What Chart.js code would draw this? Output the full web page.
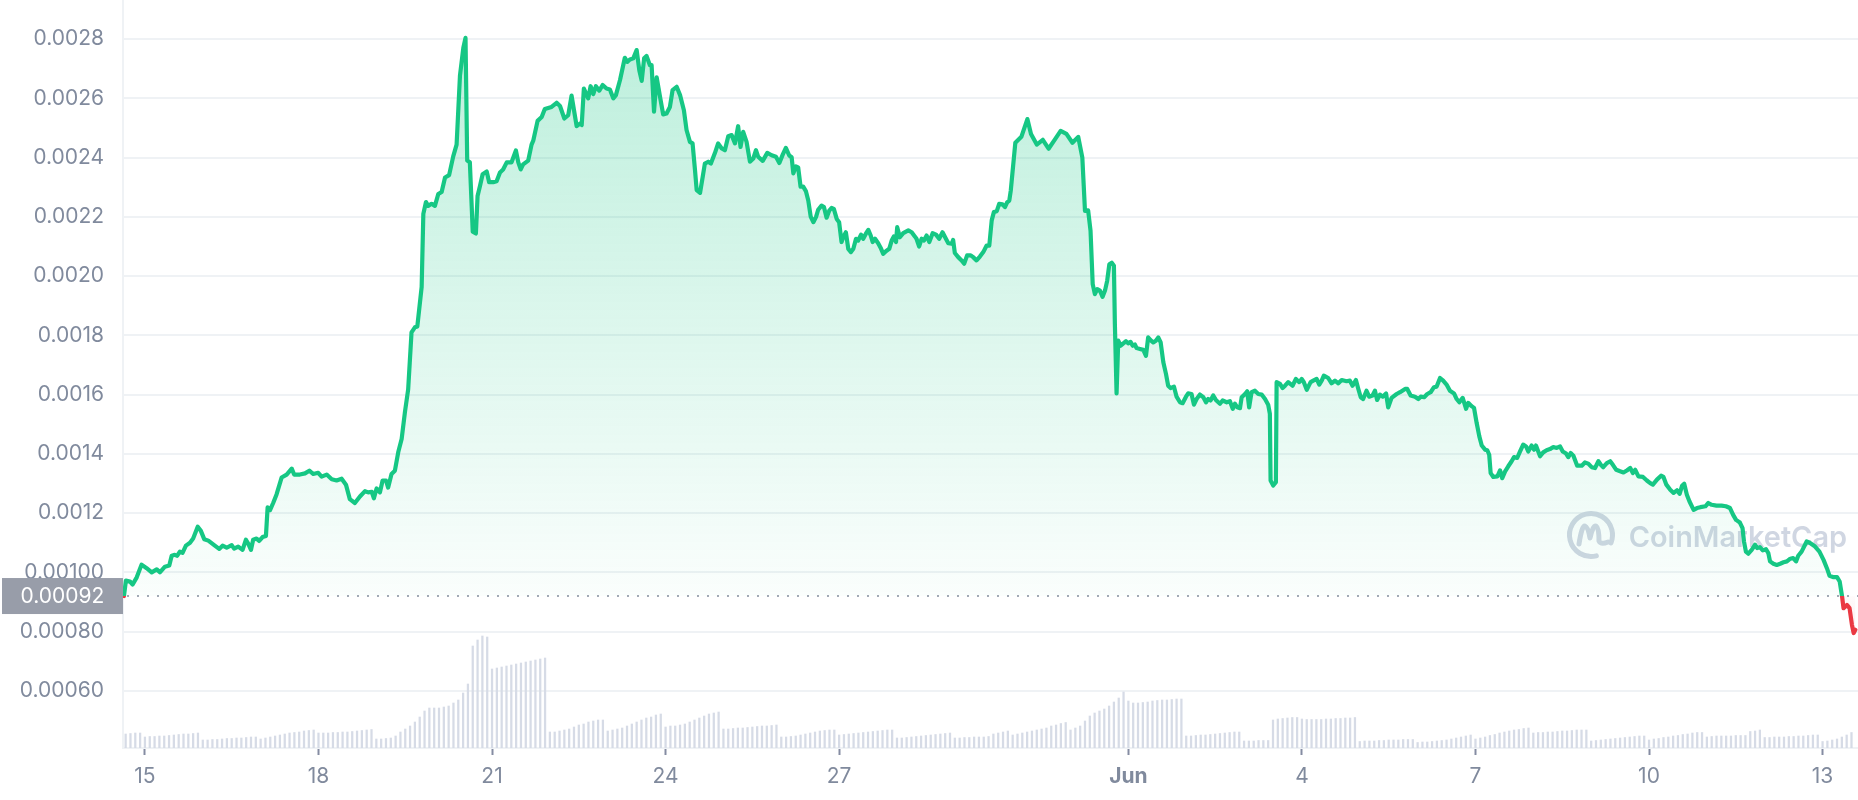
<!DOCTYPE html>
<html>
<head>
<meta charset="utf-8">
<script src="https://cdn.jsdelivr.net/npm/chart.js@4.4.1/dist/chart.umd.min.js"></script>
<style>
  html, body { margin: 0; padding: 0; background: #fff; }
  #wrap { width: 1858px; height: 800px; }
</style>
</head>
<body>
<div id="wrap"><canvas id="chart" width="1858" height="800" style="width:1858px;height:800px"></canvas></div>
<script>
// opening price of the period (dotted line + badge)
const openPrice = 0.00092;

const priceTicks = [0.0006, 0.0008, 0.0010, 0.0012, 0.0014, 0.0016, 0.0018, 0.0020, 0.0022, 0.0024, 0.0026, 0.0028];
const priceTickLabels = ['0.00060', '0.00080', '0.00100', '0.0012', '0.0014', '0.0016', '0.0018', '0.0020', '0.0022', '0.0024', '0.0026', '0.0028'];

// x is hours since 15 May 00:00
const dateTickHours = [0, 72, 144, 216, 288, 408, 480, 552, 624, 696];
const dateTickLabels = ['15', '18', '21', '24', '27', 'Jun', '4', '7', '10', '13'];

// [hour, price]
const pricePoints = [
  [-8.7, 0.000920], [-7.9, 0.000972], [-6.2, 0.000969], [-5.1, 0.000959], [-3.4, 0.000983], [-1.4, 0.001026],
  [0.7, 0.001014], [2.8, 0.001000], [4.9, 0.001010], [6.2, 0.001000], [8.3, 0.001019], [10.1, 0.001023],
  [11.1, 0.001056], [12.4, 0.001059], [13.4, 0.001056], [14.5, 0.001070], [15.6, 0.001066], [17.0, 0.001090],
  [18.7, 0.001100], [20.0, 0.001114], [21.9, 0.001154], [23.2, 0.001140], [24.6, 0.001112], [26.3, 0.001107],
  [29.0, 0.001090], [30.8, 0.001079], [32.2, 0.001090], [33.9, 0.001083], [36.0, 0.001092], [37.0, 0.001080],
  [38.7, 0.001087], [40.5, 0.001076], [41.9, 0.001110], [42.9, 0.001096], [44.0, 0.001076], [44.9, 0.001110],
  [46.3, 0.001114], [47.4, 0.001106], [48.8, 0.001119], [50.2, 0.001123], [50.9, 0.001219], [51.9, 0.001210],
  [53.2, 0.001234], [54.6, 0.001263], [56.7, 0.001320], [58.8, 0.001330], [60.9, 0.001350], [61.9, 0.001330],
  [64.3, 0.001330], [66.4, 0.001334], [68.2, 0.001343], [69.8, 0.001332], [71.9, 0.001336], [73.3, 0.001323],
  [75.4, 0.001330], [77.5, 0.001314], [79.5, 0.001310], [81.6, 0.001316], [83.4, 0.001296], [85.0, 0.001247],
  [87.1, 0.001234], [89.2, 0.001256], [91.3, 0.001274], [92.6, 0.001270], [94.1, 0.001272], [95.0, 0.001250],
  [96.1, 0.001283], [97.5, 0.001270], [98.6, 0.001310], [100.0, 0.001310], [100.9, 0.001286], [102.3, 0.001332],
  [103.7, 0.001343], [105.1, 0.001406], [106.5, 0.001450], [107.9, 0.001543], [109.2, 0.001617], [110.6, 0.001810],
  [112.0, 0.001827], [113.0, 0.001830], [114.8, 0.001963], [115.5, 0.002210], [116.6, 0.002250], [117.5, 0.002237],
  [118.9, 0.002244], [120.3, 0.002237], [121.7, 0.002277], [123.1, 0.002284], [124.5, 0.002333], [126.2, 0.002341],
  [127.9, 0.002404], [129.3, 0.002444], [130.7, 0.002677], [132.1, 0.002771], [133.0, 0.002804], [133.7, 0.002390],
  [134.8, 0.002384], [136.0, 0.002150], [137.3, 0.002144], [138.0, 0.002270], [139.0, 0.002304], [140.1, 0.002344],
  [141.8, 0.002353], [142.8, 0.002317], [144.5, 0.002317], [145.9, 0.002320], [147.3, 0.002350], [148.6, 0.002360],
  [150.1, 0.002384], [152.1, 0.002384], [153.9, 0.002424], [154.9, 0.002384], [155.9, 0.002360], [156.9, 0.002377],
  [159.0, 0.002390], [160.4, 0.002444], [161.1, 0.002457], [162.9, 0.002524], [164.6, 0.002537], [165.9, 0.002564],
  [168.7, 0.002571], [170.8, 0.002585], [172.2, 0.002574], [174.0, 0.002532], [175.6, 0.002543], [177.0, 0.002609],
  [179.1, 0.002506], [180.5, 0.002515], [181.2, 0.002510], [182.1, 0.002633], [183.9, 0.002600], [184.9, 0.002641],
  [186.0, 0.002614], [187.1, 0.002641], [188.5, 0.002626], [189.9, 0.002645], [191.5, 0.002633], [192.9, 0.002630],
  [194.3, 0.002600], [195.4, 0.002611], [197.1, 0.002662], [199.1, 0.002737], [200.1, 0.002723], [201.2, 0.002731],
  [202.6, 0.002735], [204.0, 0.002763], [205.1, 0.002695], [206.1, 0.002659], [207.1, 0.002735], [208.1, 0.002743],
  [209.5, 0.002712], [210.2, 0.002712], [211.2, 0.002555], [212.3, 0.002671], [213.7, 0.002605], [215.0, 0.002546],
  [216.4, 0.002549], [217.8, 0.002571], [218.9, 0.002628], [220.6, 0.002639], [222.0, 0.002611], [223.6, 0.002560],
  [224.7, 0.002493], [226.1, 0.002453], [227.2, 0.002448], [228.2, 0.002358], [228.9, 0.002290], [230.3, 0.002281],
  [231.4, 0.002335], [232.3, 0.002380], [233.7, 0.002386], [234.8, 0.002380], [236.5, 0.002416], [237.8, 0.002448],
  [239.3, 0.002431], [240.6, 0.002425], [242.0, 0.002472], [243.4, 0.002476], [244.8, 0.002448], [246.1, 0.002506],
  [247.1, 0.002436], [248.2, 0.002487], [249.6, 0.002453], [251.0, 0.002386], [252.4, 0.002397], [253.5, 0.002425],
  [254.4, 0.002403], [256.3, 0.002389], [258.2, 0.002416], [260.0, 0.002408], [261.8, 0.002403], [263.2, 0.002382],
  [264.6, 0.002410], [265.9, 0.002433], [267.3, 0.002407], [268.3, 0.002401], [269.0, 0.002347], [270.1, 0.002370],
  [271.0, 0.002367], [272.0, 0.002302], [273.1, 0.002302], [274.2, 0.002287], [275.2, 0.002255], [276.2, 0.002201],
  [277.3, 0.002182], [278.4, 0.002199], [279.3, 0.002224], [280.7, 0.002238], [281.7, 0.002233], [282.8, 0.002197],
  [283.9, 0.002221], [284.9, 0.002230], [285.8, 0.002227], [287.0, 0.002193], [288.0, 0.002182], [289.0, 0.002115],
  [289.7, 0.002131], [290.8, 0.002148], [291.8, 0.002092], [292.9, 0.002081], [293.9, 0.002092], [295.0, 0.002126],
  [295.9, 0.002120], [297.1, 0.002140], [298.0, 0.002126], [299.1, 0.002143], [300.1, 0.002156], [301.1, 0.002137],
  [301.9, 0.002115], [302.9, 0.002126], [304.2, 0.002111], [305.2, 0.002096], [306.3, 0.002075], [307.4, 0.002084],
  [308.8, 0.002092], [309.8, 0.002120], [310.7, 0.002134], [311.6, 0.002115], [312.1, 0.002165], [313.2, 0.002131],
  [314.6, 0.002145], [316.7, 0.002154], [318.1, 0.002148], [319.4, 0.002134], [320.1, 0.002126], [321.2, 0.002100],
  [322.2, 0.002126], [323.2, 0.002120], [324.3, 0.002137], [325.4, 0.002115], [326.8, 0.002145], [328.2, 0.002140],
  [329.5, 0.002126], [330.9, 0.002148], [332.3, 0.002126], [333.3, 0.002111], [334.7, 0.002109], [335.3, 0.002122],
  [336.0, 0.002078], [337.4, 0.002064], [338.8, 0.002053], [339.9, 0.002042], [341.1, 0.002070], [342.6, 0.002070],
  [343.6, 0.002064], [345.0, 0.002053], [346.4, 0.002066], [347.8, 0.002081], [349.2, 0.002103], [350.3, 0.002103],
  [351.3, 0.002188], [352.2, 0.002216], [353.4, 0.002219], [354.4, 0.002244], [355.8, 0.002242], [356.8, 0.002233],
  [357.7, 0.002249], [358.6, 0.002255], [359.2, 0.002288], [361.1, 0.002450], [363.6, 0.002470], [366.1, 0.002530],
  [367.6, 0.002480], [370.0, 0.002444], [372.5, 0.002460], [374.9, 0.002430], [377.4, 0.002460], [379.9, 0.002490],
  [382.3, 0.002480], [384.8, 0.002450], [387.2, 0.002470], [388.9, 0.002400], [390.0, 0.002220], [391.3, 0.002222],
  [392.3, 0.002153], [393.2, 0.001973], [394.1, 0.001939], [395.1, 0.001956], [396.2, 0.001951], [397.3, 0.001930],
  [398.3, 0.001951], [399.2, 0.001984], [400.1, 0.002040], [401.1, 0.002045], [402.0, 0.002035], [402.4, 0.001838],
  [403.1, 0.001604], [403.8, 0.001782], [404.8, 0.001765], [405.9, 0.001773], [407.0, 0.001780], [407.9, 0.001773],
  [408.9, 0.001778], [409.8, 0.001765], [410.7, 0.001769], [411.4, 0.001757], [412.8, 0.001754], [414.2, 0.001751],
  [415.3, 0.001731], [416.2, 0.001793], [417.2, 0.001784], [418.3, 0.001776], [419.4, 0.001782], [420.4, 0.001793],
  [421.4, 0.001776], [422.5, 0.001709], [423.6, 0.001670], [424.5, 0.001630], [425.5, 0.001622], [426.9, 0.001627],
  [428.0, 0.001593], [429.4, 0.001574], [430.5, 0.001571], [431.9, 0.001593], [432.8, 0.001604], [434.2, 0.001602],
  [435.2, 0.001566], [436.3, 0.001585], [437.7, 0.001600], [439.1, 0.001591], [440.2, 0.001574], [441.1, 0.001585],
  [442.1, 0.001580], [443.2, 0.001597], [444.3, 0.001582], [446.0, 0.001569], [447.1, 0.001580], [448.8, 0.001574],
  [450.1, 0.001578], [451.3, 0.001552], [452.2, 0.001569], [453.2, 0.001557], [454.3, 0.001554], [455.0, 0.001591],
  [456.4, 0.001602], [457.3, 0.001611], [458.1, 0.001557], [459.1, 0.001608], [460.5, 0.001613], [461.9, 0.001602],
  [463.3, 0.001600], [464.7, 0.001585], [466.0, 0.001566], [466.7, 0.001535], [467.0, 0.001310], [468.1, 0.001293],
  [469.2, 0.001304], [469.5, 0.001642], [470.9, 0.001636], [472.0, 0.001622], [473.0, 0.001630], [474.3, 0.001642],
  [476.1, 0.001630], [477.5, 0.001653], [478.9, 0.001642], [479.9, 0.001653], [480.8, 0.001642], [482.0, 0.001616],
  [483.6, 0.001642], [484.7, 0.001647], [486.1, 0.001653], [487.2, 0.001634], [488.2, 0.001647], [489.1, 0.001664],
  [490.9, 0.001656], [492.3, 0.001638], [493.7, 0.001647], [495.1, 0.001638], [496.5, 0.001649], [498.5, 0.001645],
  [499.9, 0.001647], [501.0, 0.001630], [502.4, 0.001649], [503.4, 0.001619], [504.4, 0.001591], [505.4, 0.001585],
  [506.8, 0.001613], [507.9, 0.001593], [509.3, 0.001597], [510.3, 0.001613], [511.2, 0.001582], [512.4, 0.001600],
  [513.5, 0.001593], [514.9, 0.001604], [515.8, 0.001557], [517.2, 0.001589], [519.3, 0.001602], [520.7, 0.001608],
  [522.8, 0.001619], [523.7, 0.001619], [525.1, 0.001597], [526.9, 0.001593], [528.3, 0.001585], [529.3, 0.001593],
  [530.7, 0.001591], [532.0, 0.001602], [533.4, 0.001608], [534.8, 0.001625], [535.9, 0.001627], [537.3, 0.001656],
  [538.6, 0.001647], [540.0, 0.001634], [541.4, 0.001613], [543.1, 0.001604], [544.2, 0.001585], [545.3, 0.001574],
  [546.7, 0.001589], [548.1, 0.001552], [549.0, 0.001572], [550.4, 0.001561], [551.4, 0.001555], [552.5, 0.001504],
  [553.6, 0.001459], [554.6, 0.001428], [556.0, 0.001414], [556.9, 0.001412], [557.7, 0.001397], [558.3, 0.001335],
  [559.4, 0.001322], [561.1, 0.001324], [562.2, 0.001344], [563.1, 0.001318], [564.3, 0.001341], [565.6, 0.001358],
  [567.0, 0.001375], [568.0, 0.001389], [569.3, 0.001386], [570.5, 0.001408], [571.8, 0.001431], [573.0, 0.001425],
  [573.9, 0.001408], [575.3, 0.001428], [576.3, 0.001414], [577.1, 0.001428], [578.8, 0.001392], [580.1, 0.001405],
  [581.5, 0.001412], [582.9, 0.001416], [584.3, 0.001423], [585.7, 0.001420], [587.1, 0.001425], [588.2, 0.001408],
  [589.6, 0.001401], [590.5, 0.001389], [591.5, 0.001403], [592.6, 0.001394], [594.2, 0.001360], [596.1, 0.001360],
  [597.4, 0.001371], [598.8, 0.001367], [600.2, 0.001355], [601.6, 0.001352], [603.0, 0.001375], [604.0, 0.001363],
  [605.0, 0.001355], [606.5, 0.001369], [607.9, 0.001375], [609.0, 0.001363], [610.4, 0.001346], [612.0, 0.001341],
  [613.4, 0.001337], [614.8, 0.001344], [616.2, 0.001352], [617.3, 0.001335], [618.3, 0.001346], [619.6, 0.001324],
  [621.5, 0.001322], [623.1, 0.001310], [624.5, 0.001301], [625.6, 0.001296], [627.3, 0.001313], [629.0, 0.001326],
  [630.0, 0.001322], [631.2, 0.001296], [632.8, 0.001279], [634.2, 0.001268], [635.6, 0.001277], [636.7, 0.001265],
  [637.7, 0.001292], [638.6, 0.001299], [639.7, 0.001262], [640.8, 0.001239], [642.5, 0.001211], [643.9, 0.001217],
  [645.3, 0.001220], [647.4, 0.001223], [648.6, 0.001234], [650.0, 0.001228], [652.0, 0.001225], [654.1, 0.001225],
  [655.9, 0.001223], [657.6, 0.001217], [658.9, 0.001194], [660.1, 0.001177], [661.7, 0.001168], [662.8, 0.001149],
  [663.4, 0.001104], [664.2, 0.001070], [665.2, 0.001063], [666.6, 0.001076], [668.0, 0.001093], [668.9, 0.001082],
  [670.0, 0.001085], [671.2, 0.001074], [672.5, 0.001078], [673.5, 0.001065], [674.2, 0.001037], [675.6, 0.001029],
  [677.0, 0.001025], [678.4, 0.001029], [679.8, 0.001034], [681.2, 0.001037], [682.6, 0.001046], [683.8, 0.001048],
  [685.0, 0.001037], [685.9, 0.001056], [687.3, 0.001070], [689.4, 0.001104], [690.8, 0.001099], [692.9, 0.001087],
  [694.7, 0.001070], [696.4, 0.001042], [697.8, 0.001014], [698.9, 0.000988], [700.3, 0.000984], [702.0, 0.000984],
  [703.1, 0.000969], [704.1, 0.000918], [704.7, 0.000879], [706.1, 0.000890], [707.2, 0.000879], [708.2, 0.000822],
  [708.9, 0.000795], [709.6, 0.000806]
];

// 24h volume, one bar every two hours (arbitrary units)
const volumeTail14May = [14, 14.5, 15, 15];          // 16:00 .. 22:00
const volumeDays = [
  [11, 11.5, 11.5, 12, 12, 12.5, 13, 13.5, 14, 14, 14.5, 15],           // 15 May
  [8, 8, 8.5, 8.5, 9, 9.5, 9.5, 10, 10, 10.5, 11, 11],                  // 16
  [9, 10, 11, 12, 13, 14, 15, 15.5, 16, 17, 17.5, 18],                  // 17
  [15, 15, 15, 15.5, 15.5, 16, 16, 16.5, 17, 17.5, 18, 18.5],           // 18
  [9, 9, 9.5, 10, 12, 16, 19, 22, 26, 31, 37, 40],                      // 19
  [40, 40, 41, 42, 45, 48, 55, 64, 102, 108, 112, 111],                 // 20
  [79, 80, 81, 82, 83, 84, 85, 86, 87, 88, 89, 90],                     // 21
  [16, 16, 17, 18, 19, 21, 23, 24, 26, 27, 28, 28],                     // 22
  [17, 18, 19, 20, 22, 24, 26, 28, 30, 31, 33, 34],                     // 23
  [21, 22, 22, 23, 24, 26, 28, 30, 32, 34, 35, 36],                     // 24
  [19, 19, 19.5, 20, 20, 20.5, 21, 21.5, 22, 22, 22.5, 23],             // 25
  [11, 11, 11.5, 12, 13, 14, 15, 16, 17, 17.5, 18, 18],                 // 26
  [13, 13.5, 14, 14.5, 15, 15.5, 16, 16.5, 17, 17.5, 18, 18],           // 27
  [10, 10, 10.5, 11, 11.5, 12, 12.5, 13, 13.5, 14, 14.5, 15],           // 28
  [10, 10, 10.5, 10.5, 11, 11, 11, 11.5, 14, 15, 16, 17],               // 29
  [13, 14, 15, 16, 17, 18, 19, 20, 22, 23, 24.5, 25.5],                 // 30
  [18, 20, 22, 27, 32, 35, 37, 39, 42, 46, 50, 56],                     // 31
  [47, 45, 45, 45.5, 46, 47, 47.5, 48, 48, 48.5, 49, 49],               // 1 Jun
  [12, 12, 12.5, 13, 13, 13.5, 14, 14.5, 15, 15.5, 16, 16],             // 2
  [7, 7, 7, 7.5, 7.5, 7.5, 28, 29, 29.5, 30, 30.5, 30.5],               // 3
  [29, 28.5, 28.5, 28.5, 28.5, 29, 29, 29.5, 29.5, 30, 30, 30.5],       // 4
  [6.5, 7, 7, 7, 7.5, 7.5, 8, 8, 8, 8.5, 8.5, 8.5],                     // 5
  [5.5, 6, 6, 6.5, 7, 7.5, 8, 9, 10, 11, 12, 13],                       // 6
  [9, 10, 11, 12.5, 13.5, 15, 16, 17, 18, 18.5, 19.5, 20],              // 7
  [15, 15.5, 15.5, 16, 16, 16.5, 17, 17, 17.5, 18, 18, 18],             // 8
  [7, 7.5, 8, 8.5, 9, 9.5, 10, 10.5, 11, 11.5, 12, 12],                 // 9
  [8, 9, 9.5, 10.5, 11, 12, 12.5, 13.5, 14, 15, 15.5, 15.5],            // 10
  [11, 11.5, 12, 12, 12, 12, 12.5, 12.5, 12.5, 16.5, 17, 18],           // 11
  [10.5, 10.5, 11, 11, 11, 11.5, 11.5, 12, 12, 12.5, 13, 13],           // 12
  [6.5, 7, 8, 9, 11, 13, 15.5]                                          // 13 Jun (to 12:00)
];

const green = '#16c784';
const red = '#ea3943';
const labelColor = '#808a9d';
const gridColor = '#eff2f5';
const fontFamily = 'Inter, "Noto Sans", sans-serif';

const volumePoints = [];
volumeTail14May.forEach((v, k) => volumePoints.push({ x: -8 + 2 * k, y: v }));
volumeDays.forEach((day, d) => day.forEach((v, k) => volumePoints.push({ x: d * 24 + 2 * k, y: v })));

// green above the opening price, red below it
function splitGradient(context, topColor, midGreen, midRed, bottomColor) {
  const { chart } = context;
  const { ctx, chartArea, scales } = chart;
  if (!chartArea) return topColor;
  const yb = scales.y.getPixelForValue(openPrice);
  let t = (yb - chartArea.top) / (chartArea.bottom - chartArea.top);
  t = Math.min(Math.max(t, 0), 1);
  const g = ctx.createLinearGradient(0, chartArea.top, 0, chartArea.bottom);
  g.addColorStop(0, topColor);
  g.addColorStop(t, midGreen);
  g.addColorStop(t, midRed);
  g.addColorStop(1, bottomColor);
  return g;
}

const baseLinePlugin = {
  id: 'baseLine',
  beforeDatasetsDraw(chart) {
    const { ctx, chartArea, scales } = chart;
    const y = Math.round(scales.y.getPixelForValue(openPrice));
    ctx.save();
    ctx.strokeStyle = '#a3a9b5';
    ctx.lineWidth = 2;
    ctx.setLineDash([2, 8]);
    ctx.beginPath();
    ctx.moveTo(chartArea.left + 4, y);
    ctx.lineTo(chartArea.right, y);
    ctx.stroke();
    ctx.restore();
  },
  afterDraw(chart) {
    // price badge over the y axis
    const { ctx, chartArea, scales } = chart;
    const y = scales.y.getPixelForValue(openPrice);
    ctx.save();
    ctx.fillStyle = '#989da9';
    ctx.fillRect(2, y - 18, chartArea.left - 2, 36);
    ctx.fillStyle = '#ffffff';
    ctx.font = '21px ' + fontFamily;
    ctx.textAlign = 'center';
    ctx.textBaseline = 'middle';
    ctx.fillText(openPrice.toFixed(5), (chartArea.left + 2) / 2, y + 1);
    ctx.restore();
  }
};

const watermarkPlugin = {
  id: 'watermark',
  beforeDatasetsDraw(chart) {
    const { ctx, chartArea } = chart;
    const text = 'CoinMarketCap';
    const right = chartArea.right - 11;
    const baseline = chartArea.bottom - 201;
    ctx.save();
    ctx.fillStyle = '#d0d6e2';
    ctx.strokeStyle = '#d0d6e2';
    ctx.font = '600 30px ' + fontFamily;
    const w = ctx.measureText(text).width;
    const size = 30 * 218 / w;
    ctx.font = '600 ' + size.toFixed(1) + 'px ' + fontFamily;
    ctx.textAlign = 'right';
    ctx.textBaseline = 'alphabetic';
    ctx.fillText(text, right, baseline);

    // logo: open ring with an "M" wave
    const cx = right - 218 - 38;
    const cy = baseline - 12;
    ctx.lineWidth = 5;
    ctx.lineCap = 'round';
    ctx.lineJoin = 'round';
    ctx.beginPath();
    ctx.arc(cx, cy, 21.5, 0.42 * Math.PI, 2.12 * Math.PI);
    ctx.stroke();
    ctx.beginPath();
    ctx.moveTo(cx - 12, cy + 9);
    ctx.quadraticCurveTo(cx - 9, cy - 10, cx - 6, cy - 9);
    ctx.quadraticCurveTo(cx - 3, cy - 8, cx - 1, cy + 3);
    ctx.quadraticCurveTo(cx + 2, cy - 10, cx + 5, cy - 9);
    ctx.quadraticCurveTo(cx + 8, cy - 7, cx + 8, cy + 6);
    ctx.quadraticCurveTo(cx + 10, cy + 10, cx + 17, cy + 7);
    ctx.stroke();
    ctx.restore();
  }
};

const chart = new Chart(document.getElementById('chart'), {
  type: 'line',
  data: {
    datasets: [
      {
        type: 'line',
        data: pricePoints.map(([x, y]) => ({ x, y })),
        yAxisID: 'y',
        borderWidth: 4.2,
        borderJoinStyle: 'round',
        borderCapStyle: 'round',
        pointRadius: 0,
        tension: 0,
        fill: { target: { value: openPrice } },
        borderColor: ctx => splitGradient(ctx, green, green, red, red),
        backgroundColor: ctx => splitGradient(ctx, 'rgba(22,199,132,0.30)', 'rgba(22,199,132,0.02)',
          'rgba(234,57,67,0.02)', 'rgba(234,57,67,0.30)'),
        order: 0
      },
      {
        type: 'bar',
        data: volumePoints,
        yAxisID: 'yVol',
        backgroundColor: '#d6dbe6',
        barThickness: 1.6,
        order: 1
      }
    ]
  },
  options: {
    responsive: false,
    animation: false,
    layout: { padding: 0 },
    plugins: { legend: { display: false }, tooltip: { enabled: false } },
    scales: {
      x: {
        type: 'linear',
        min: -9.1,
        max: 710.7,
        offset: false,
        grid: { display: true, drawOnChartArea: false, drawTicks: true, tickLength: 7, tickWidth: 2, tickColor: '#858ca2', offset: false },
        border: { color: gridColor, width: 2 },
        afterBuildTicks: scale => { scale.ticks = dateTickHours.map(v => ({ value: v })); },
        afterFit: scale => { scale.height = 52; scale.paddingLeft = 0; scale.paddingRight = 0; },
        ticks: {
          autoSkip: false,
          maxRotation: 0,
          padding: 9,
          color: labelColor,
          font: ctx => ({ family: fontFamily, size: 21, weight: dateTickLabels[ctx.index] === 'Jun' ? '700' : '400' }),
          callback: (v, i) => dateTickLabels[i]
        }
      },
      y: {
        position: 'left',
        min: 0.000407,
        max: 0.002932,
        grid: { color: gridColor, lineWidth: 2, drawTicks: false },
        border: { color: gridColor, width: 2 },
        afterBuildTicks: scale => { scale.ticks = priceTicks.map(v => ({ value: v })); },
        afterFit: scale => { scale.width = 123; scale.paddingTop = 0; scale.paddingBottom = 0; },
        ticks: {
          padding: 19,
          color: labelColor,
          font: { family: fontFamily, size: 21 },
          callback: (v, i) => priceTickLabels[i]
        }
      },
      yVol: {
        display: false,
        min: 0,
        max: 748
      }
    }
  },
  plugins: [baseLinePlugin, watermarkPlugin]
});
</script>
</body>
</html>
